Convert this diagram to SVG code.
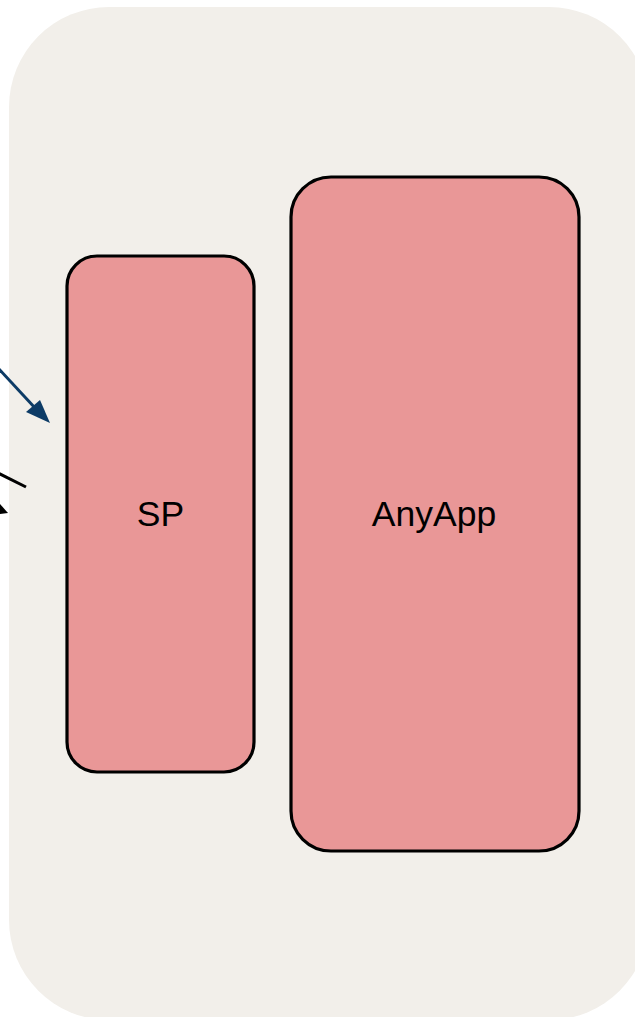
<svg xmlns="http://www.w3.org/2000/svg" width="635" height="1017" viewBox="0 0 635 1017">
  <defs>
    <style>
      .node rect { fill: #e99797; stroke: #000; stroke-width: 3.2; }
      .node text { font-family: "Liberation Sans", Arial, sans-serif; font-size: 35.5px; fill: #000; text-anchor: middle; }
    </style>
  </defs>

  <!-- container panel -->
  <rect id="panel" x="9" y="7" width="640" height="1013" rx="100" ry="100" fill="#f2efea"/>

  <g id="node-sp" class="node">
    <rect x="67" y="256" width="187" height="516" rx="30" ry="30"/>
    <text x="160.5" y="526">SP</text>
  </g>

  <g id="node-anyapp" class="node">
    <rect x="291" y="177" width="288" height="674" rx="40" ry="40"/>
    <text x="434" y="526">AnyApp</text>
  </g>

  <g id="connectors">
    <line x1="-2" y1="368" x2="36" y2="409" stroke="#0d3b66" stroke-width="3"/>
    <polygon points="50,423 26,412 40,400" fill="#0d3b66"/>
    <line x1="-2" y1="473" x2="26" y2="487" stroke="#000" stroke-width="3"/>
    <polygon points="0,504 8,513 0,514" fill="#000"/>
  </g>
</svg>
